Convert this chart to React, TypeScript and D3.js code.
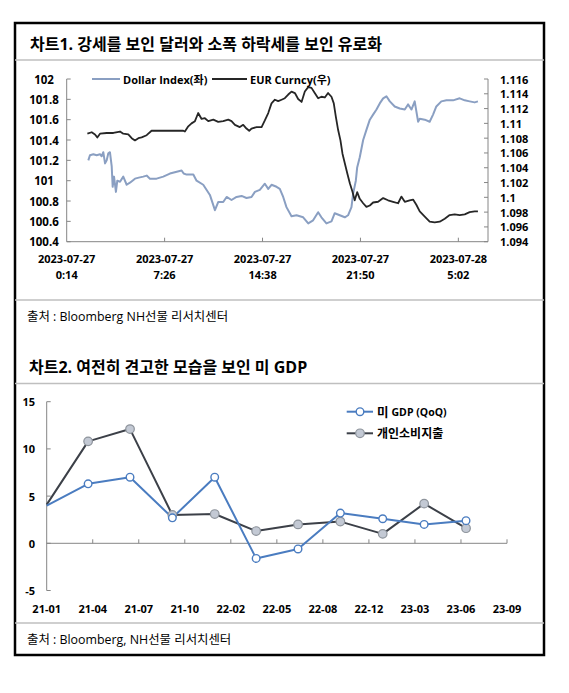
import React from "react";
import * as d3 from "d3";

// ---------- Text ----------
const chart1Title = "차트1. 강세를 보인 달러와 소폭 하락세를 보인 유로화";
const chart2Title = "차트2. 여전히 견고한 모습을 보인 미 GDP";
const source1 = "출처 : Bloomberg NH선물 리서치센터";
const source2 = "출처 : Bloomberg, NH선물 리서치센터";
const legend1 = ["Dollar Index(좌)", "EUR Curncy(우)"];

// ---------- Chart 1 data (hours since 2023-07-27 0:14) ----------
const timeTickDates = ["2023-07-27", "2023-07-27", "2023-07-27", "2023-07-27", "2023-07-28"];
const timeTickTimes = ["0:14", "7:26", "14:38", "21:50", "5:02"];
const timeTickHours = [0, 7.2, 14.4, 21.6, 28.8];
const timeAxisEnd = 30.98;
const leftTicks = [100.4, 100.6, 100.8, 101, 101.2, 101.4, 101.6, 101.8, 102];
const rightTicks = [1.094, 1.096, 1.098, 1.1, 1.102, 1.104, 1.106, 1.108, 1.11, 1.112, 1.114, 1.116];

const dollarIndex: [number, number][] = [
  [1.59, 101.2], [1.71, 101.25], [1.96, 101.26], [2.2, 101.25], [2.45, 101.26], [2.57, 101.24],
  [2.69, 101.28], [2.82, 101.17], [2.94, 101.2], [3.06, 101.27], [3.18, 101.28], [3.31, 101.14],
  [3.38, 100.94], [3.48, 101.04], [3.62, 100.89], [3.72, 101.0], [3.92, 100.99], [4.16, 101.04],
  [4.41, 100.96], [4.65, 100.98], [5.02, 101.02], [5.3, 101.03], [5.63, 101.04], [5.88, 101.05],
  [6.12, 101.02], [6.61, 101.02], [7.1, 101.04], [7.59, 101.07], [8.45, 101.1], [8.6, 101.07],
  [8.82, 101.06], [9.31, 101.06], [9.55, 101.0], [10.04, 100.96], [10.53, 100.86], [10.9, 100.71],
  [11.14, 100.79], [11.51, 100.79], [11.76, 100.84], [12.12, 100.81], [12.49, 100.84], [12.86, 100.85],
  [13.22, 100.83], [13.59, 100.84], [13.84, 100.89], [14.2, 100.91], [14.57, 100.97], [14.82, 100.92],
  [15.06, 100.96], [15.43, 100.94], [15.67, 100.92], [15.92, 100.84], [16.16, 100.74], [16.53, 100.65],
  [16.9, 100.66], [17.39, 100.64], [17.76, 100.58], [18.12, 100.61], [18.49, 100.69], [18.73, 100.64],
  [19.1, 100.58], [19.47, 100.6], [19.71, 100.68], [20.08, 100.66], [20.45, 100.64], [20.69, 100.66],
  [20.94, 100.74], [21.06, 100.87], [21.26, 101.0], [21.36, 101.13], [21.55, 101.23], [21.8, 101.4],
  [22.04, 101.5], [22.29, 101.6], [22.53, 101.65], [22.78, 101.7], [23.02, 101.76], [23.27, 101.81],
  [23.51, 101.83], [23.76, 101.78], [24.12, 101.73], [24.49, 101.71], [24.86, 101.7], [25.1, 101.75],
  [25.35, 101.7], [25.59, 101.78], [25.84, 101.58], [25.96, 101.61], [26.33, 101.6], [26.69, 101.58],
  [26.94, 101.65], [27.18, 101.73], [27.55, 101.78], [27.92, 101.79], [28.41, 101.79], [28.9, 101.81],
  [29.27, 101.79], [29.63, 101.78], [30.0, 101.77], [30.24, 101.78],
];

const eurCurncy: [number, number][] = [
  [1.52, 1.1086], [1.84, 1.1088], [2.08, 1.1085], [2.25, 1.1081], [2.45, 1.1086], [2.94, 1.1087],
  [3.43, 1.1087], [3.92, 1.1089], [4.16, 1.1086], [4.53, 1.1085], [4.78, 1.108], [5.02, 1.1077],
  [5.27, 1.108], [5.51, 1.1081], [5.88, 1.1084], [6.24, 1.109], [6.86, 1.109], [7.59, 1.109],
  [8.57, 1.109], [8.69, 1.1089], [8.94, 1.1096], [9.18, 1.11], [9.43, 1.1103], [9.67, 1.1114],
  [9.92, 1.1106], [10.16, 1.1107], [10.41, 1.1103], [10.78, 1.1105], [11.14, 1.1102], [11.51, 1.1103],
  [11.88, 1.1105], [12.12, 1.1103], [12.37, 1.1098], [12.73, 1.1095], [12.98, 1.1098], [13.22, 1.1093],
  [13.42, 1.109], [13.59, 1.1093], [13.96, 1.1095], [14.33, 1.1095], [14.57, 1.1104], [14.82, 1.1114],
  [15.06, 1.1127], [15.31, 1.1132], [15.55, 1.113], [15.8, 1.1132], [16.04, 1.1134], [16.29, 1.1139],
  [16.53, 1.1143], [16.78, 1.1141], [17.02, 1.1133], [17.27, 1.1129], [17.51, 1.1143], [17.76, 1.1149],
  [18.0, 1.1148], [18.24, 1.1141], [18.49, 1.1134], [18.73, 1.1136], [18.98, 1.1135], [19.22, 1.1141],
  [19.47, 1.1136], [19.64, 1.1127], [19.79, 1.1109], [19.96, 1.1091], [20.13, 1.1077], [20.28, 1.1059],
  [20.45, 1.1046], [20.64, 1.1032], [20.82, 1.1019], [21.01, 1.1008], [21.18, 1.0996], [21.36, 1.1007],
  [21.55, 1.0998], [21.8, 1.0992], [22.04, 1.0987], [22.29, 1.0989], [22.53, 1.0993], [22.9, 1.0994],
  [23.27, 1.0999], [23.63, 1.0996], [24.0, 1.0994], [24.37, 1.0992], [24.61, 1.1001], [24.86, 1.0994],
  [25.22, 1.0996], [25.47, 1.0997], [25.71, 1.099], [25.96, 1.0981], [26.33, 1.0974], [26.69, 1.0967],
  [27.06, 1.0966], [27.43, 1.0967], [27.8, 1.0971], [28.16, 1.0976], [28.53, 1.0977], [28.9, 1.0976],
  [29.27, 1.0977], [29.63, 1.098], [30.0, 1.0981], [30.24, 1.0981],
];

// ---------- Chart 2 data ----------
const quarterDates = [
  "2021-01-01", "2021-04-01", "2021-07-01", "2021-10-01", "2022-01-01", "2022-04-01",
  "2022-07-01", "2022-10-01", "2023-01-01", "2023-04-01", "2023-07-01",
];
const gdpQoQ = [4.0, 6.3, 7.0, 2.7, 7.0, -1.6, -0.6, 3.2, 2.6, 2.0, 2.4];
const consumption = [4.1, 10.8, 12.1, 3.0, 3.1, 1.3, 2.0, 2.3, 1.0, 4.2, 1.6];
const gdpTickLabels = ["21-01", "21-04", "21-07", "21-10", "22-02", "22-05", "22-08", "22-12", "23-03", "23-06", "23-09"];
const gdpYTicks = [15, 10, 5, 0, -5];
const legend2 = ["미", "GDP (QoQ)", "개인소비지출"];

const FONT = "'Open Sans', 'Noto Sans CJK KR', sans-serif";
const AXIS = "#868686";
const DOLLAR = "#8A9FC2";
const EUR = "#262626";
const GDP = "#4A7CC0";
const CONS = "#3C4048";

export default function App() {
  // Chart 1
  const x1 = d3.scaleLinear().domain([0, timeAxisEnd]).range([66.7, 488]);
  const yL = d3.scaleLinear().domain([100.4, 102]).range([241.7, 79]);
  const yR = d3.scaleLinear().domain([1.094, 1.116]).range([241.7, 79]);
  const lineL = d3.line<[number, number]>().x((d) => x1(d[0])).y((d) => yL(d[1]));
  const lineR = d3.line<[number, number]>().x((d) => x1(d[0])).y((d) => yR(d[1]));
  const fmt = (v: number) => String(Number(v.toFixed(3)));

  // Chart 2
  const start = new Date(2021, 0, 1);
  const end = d3.timeDay.offset(start, 1000);
  const x2 = d3.scaleTime().domain([start, end]).range([46.7, 507]);
  const y2 = d3.scaleLinear().domain([-5, 15]).range([590.5, 401.7]);
  const qDates = quarterDates.map((s) => d3.timeParse("%Y-%m-%d")(s) as Date);
  const gdpPts = qDates.map((d, i) => [x2(d), y2(gdpQoQ[i])] as [number, number]);
  const consPts = qDates.map((d, i) => [x2(d), y2(consumption[i])] as [number, number]);
  const line2 = d3.line<[number, number]>();
  const x2Ticks = gdpTickLabels.map((_, i) => d3.timeDay.offset(start, i * 100));

  return (
    <svg width={569} height={693} style={{ position: "absolute", left: 0, top: 0, fontFamily: FONT }}>
      <rect x={0} y={0} width={569} height={693} fill="#fff" />
      {/* outer border */}
      <rect x={15} y={23} width={529} height={632} fill="none" stroke="#000" strokeWidth={2.5} />

      {/* Chart 1 title */}
      <text x={30} y={44} fontSize={16} fontWeight="bold" dominantBaseline="central" fill="#000">{chart1Title}</text>
      <line x1={15} x2={544} y1={60} y2={60} stroke="#BFBFBF" strokeWidth={1.5} />

      {/* Chart 1 axes */}
      <g stroke={AXIS} strokeWidth={1} fill="none">
        <line x1={x1(0)} x2={x1(0)} y1={yL(102)} y2={yL(100.4)} />
        <line x1={x1(timeAxisEnd)} x2={x1(timeAxisEnd)} y1={yR(1.116)} y2={yR(1.094)} />
        <line x1={x1(0)} x2={x1(timeAxisEnd)} y1={yL(100.4)} y2={yL(100.4)} />
        {leftTicks.map((t) => (
          <line key={"lt" + t} x1={x1(0)} x2={x1(0) + 4} y1={yL(t)} y2={yL(t)} />
        ))}
        {rightTicks.map((t) => (
          <line key={"rt" + t} x1={x1(timeAxisEnd) - 4} x2={x1(timeAxisEnd)} y1={yR(t)} y2={yR(t)} />
        ))}
        {timeTickHours.slice(1).map((h) => (
          <line key={"xt" + h} x1={x1(h)} x2={x1(h)} y1={yL(100.4)} y2={yL(100.4) - 4} />
        ))}
      </g>
      <g fontSize={11} fontWeight="bold" fill="#000">
        {leftTicks.map((t) => (
          <text key={"ll" + t} x={44} y={yL(t)} textAnchor="middle" dominantBaseline="central" fontSize={11.5}>{fmt(t)}</text>
        ))}
        {rightTicks.map((t) => (
          <text key={"rl" + t} x={500} y={yR(t)} textAnchor="start" dominantBaseline="central">{fmt(t)}</text>
        ))}
        {timeTickHours.map((h, i) => (
          <g key={"xl" + i}>
            <text x={x1(h)} y={258.5} textAnchor="middle" dominantBaseline="central">{timeTickDates[i]}</text>
            <text x={x1(h)} y={274.5} textAnchor="middle" dominantBaseline="central">{timeTickTimes[i]}</text>
          </g>
        ))}
      </g>

      {/* Chart 1 lines */}
      <path d={lineL(dollarIndex) || ""} fill="none" stroke={DOLLAR} strokeWidth={2} strokeLinejoin="round" />
      <path d={lineR(eurCurncy) || ""} fill="none" stroke={EUR} strokeWidth={1.8} strokeLinejoin="round" />

      {/* Chart 1 legend */}
      <g fontSize={11} fontWeight="bold" fill="#000">
        <line x1={92} x2={120} y1={79} y2={79} stroke={DOLLAR} strokeWidth={2} />
        <text x={123} y={79} dominantBaseline="central">{legend1[0]}</text>
        <line x1={212} x2={247} y1={79} y2={79} stroke={EUR} strokeWidth={2} />
        <text x={250} y={79} dominantBaseline="central">{legend1[1]}</text>
      </g>

      <line x1={15} x2={544} y1={300} y2={300} stroke="#BFBFBF" strokeWidth={1.5} />
      <text x={27} y={316} fontSize={12.4} dominantBaseline="central" fill="#000">{source1}</text>

      {/* Chart 2 title */}
      <text x={29} y={367} fontSize={16} fontWeight="bold" dominantBaseline="central" fill="#000">{chart2Title}</text>
      <line x1={15} x2={544} y1={383.5} y2={383.5} stroke="#BFBFBF" strokeWidth={1.5} />

      {/* Chart 2 axes */}
      <g stroke={AXIS} strokeWidth={1} fill="none">
        <line x1={x2(start)} x2={x2(start)} y1={y2(15)} y2={y2(-5)} />
        <line x1={x2(start)} x2={x2(end)} y1={y2(0)} y2={y2(0)} />
        {gdpYTicks.map((t) => (
          <line key={"gt" + t} x1={x2(start)} x2={x2(start) + 4} y1={y2(t)} y2={y2(t)} />
        ))}
        {x2Ticks.slice(1).map((d, i) => (
          <line key={"gx" + i} x1={x2(d)} x2={x2(d)} y1={y2(0)} y2={y2(0) - 4} />
        ))}
      </g>
      <g fontSize={11} fontWeight="bold" fill="#000">
        {gdpYTicks.map((t) => (
          <text key={"gl" + t} x={35} y={y2(t)} textAnchor="end" dominantBaseline="central">{t}</text>
        ))}
        {x2Ticks.map((d, i) => (
          <text key={"gxl" + i} x={x2(d)} y={608} textAnchor="middle" dominantBaseline="central">{gdpTickLabels[i]}</text>
        ))}
      </g>

      {/* Chart 2 lines */}
      <path d={line2(consPts) || ""} fill="none" stroke={CONS} strokeWidth={2} strokeLinejoin="round" />
      <path d={line2(gdpPts) || ""} fill="none" stroke={GDP} strokeWidth={2} strokeLinejoin="round" />
      {consPts.slice(1).map((p, i) => (
        <circle key={"cm" + i} cx={p[0]} cy={p[1]} r={4.3} fill="#C3C9D4" stroke="#8E949C" strokeWidth={1.2} />
      ))}
      {gdpPts.slice(1).map((p, i) => (
        <circle key={"gm" + i} cx={p[0]} cy={p[1]} r={3.8} fill="#fff" stroke={GDP} strokeWidth={1.4} />
      ))}

      {/* Chart 2 legend */}
      <line x1={346.7} x2={373} y1={411.7} y2={411.7} stroke={GDP} strokeWidth={2} />
      <circle cx={360} cy={411.7} r={3.8} fill="#fff" stroke={GDP} strokeWidth={1.4} />
      <text x={377} y={411.7} dominantBaseline="central" fill="#000" fontWeight="bold">
        <tspan fontSize={12.5}>{legend2[0]}</tspan>
        <tspan fontSize={10.5} dx={3}>{legend2[1]}</tspan>
      </text>
      <line x1={346.7} x2={373} y1={433.3} y2={433.3} stroke={CONS} strokeWidth={2} />
      <circle cx={360} cy={433.3} r={4.3} fill="#C3C9D4" stroke="#8E949C" strokeWidth={1.2} />
      <text x={377} y={433.3} fontSize={12} fontWeight="bold" dominantBaseline="central" fill="#000">{legend2[2]}</text>

      <line x1={15} x2={544} y1={623} y2={623} stroke="#BFBFBF" strokeWidth={1.5} />
      <text x={27} y={639} fontSize={12.4} dominantBaseline="central" fill="#000">{source2}</text>
    </svg>
  );
}
